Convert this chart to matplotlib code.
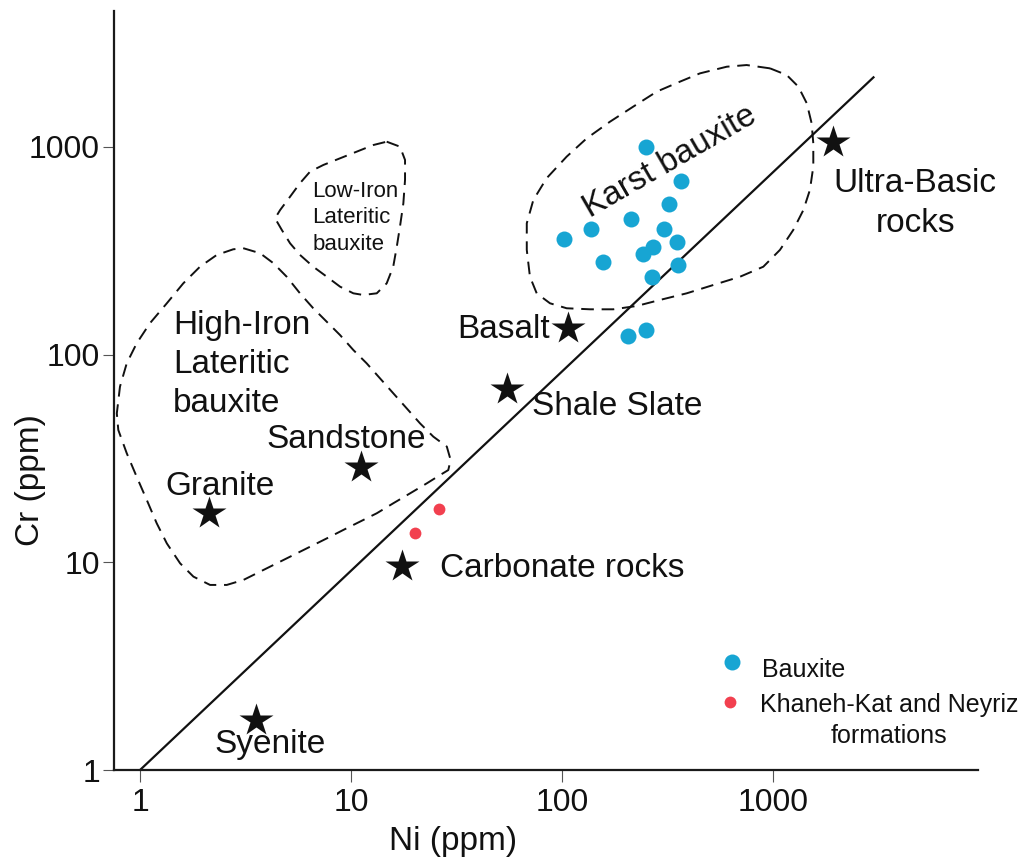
import numpy as np
import matplotlib
matplotlib.use('Agg')
import matplotlib.pyplot as plt

plt.rcParams['font.family'] = ['Liberation Sans', 'DejaVu Sans']

# ---------------- data ----------------
bauxite_ni = [249, 365, 321, 212, 137, 102, 303, 350, 271, 243, 157, 356, 267, 249, 206]
bauxite_cr = [995, 685, 531, 450, 403, 359, 403, 350, 331, 305, 280, 270, 237, 131, 123]

khaneh_ni = [26.1, 20.1]
khaneh_cr = [18.0, 13.8]

rock_names = ['Ultra-Basic\nrocks', 'Basalt', 'Shale Slate', 'Sandstone',
              'Granite', 'Carbonate rocks', 'Syenite']
rock_ni = [1931, 107, 54.7, 11.2, 2.13, 17.4, 3.55]
rock_cr = [1060, 134, 68.1, 28.7, 17.2, 9.63, 1.74]

ref_line_ni = [1, 3020]
ref_line_cr = [1, 2180]

axis_ticks = [1, 10, 100, 1000]
tick_labels = ['1', '10', '100', '1000']

# field boundaries (log10 Ni, log10 Cr)
karst_log_ni = [2.986, 2.875, 2.781, 2.654, 2.559, 2.449, 2.338, 2.227, 2.117, 2.022,
                1.927, 1.864, 1.833, 1.833, 1.848, 1.880, 1.943, 2.022, 2.133, 2.243,
                2.354, 2.464, 2.591, 2.717, 2.844, 2.954, 3.033, 3.096, 3.144, 3.175,
                3.191, 3.191, 3.183, 3.160, 3.120, 3.065]
karst_log_cr = [3.378, 3.394, 3.386, 3.354, 3.314, 3.266, 3.194, 3.121, 3.041, 2.953,
                2.849, 2.744, 2.632, 2.504, 2.375, 2.295, 2.247, 2.223, 2.218, 2.218,
                2.234, 2.263, 2.295, 2.335, 2.375, 2.423, 2.504, 2.600, 2.696, 2.793,
                2.905, 3.017, 3.114, 3.210, 3.290, 3.346]

high_log_ni = [0.490, 0.569, 0.632, 0.695, 0.758, 0.821, 0.885, 0.948, 1.011, 1.074,
               1.137, 1.200, 1.264, 1.327, 1.390, 1.454, 1.472, 1.461, 1.422, 1.359,
               1.280, 1.200, 1.122, 1.043, 0.964, 0.885, 0.806, 0.727, 0.648, 0.569,
               0.490, 0.411, 0.332, 0.253, 0.190, 0.127, 0.079, 0.032, -0.016, -0.063,
               -0.103, -0.110, -0.095, -0.063, -0.016, 0.047, 0.127, 0.205, 0.284, 0.364,
               0.442]
high_log_cr = [2.512, 2.488, 2.440, 2.375, 2.295, 2.223, 2.158, 2.094, 2.022, 1.958,
               1.886, 1.814, 1.741, 1.669, 1.605, 1.557, 1.493, 1.444, 1.420, 1.380,
               1.332, 1.284, 1.236, 1.196, 1.156, 1.115, 1.075, 1.035, 0.995, 0.955,
               0.915, 0.891, 0.891, 0.931, 0.995, 1.091, 1.188, 1.300, 1.412, 1.525,
               1.637, 1.717, 1.846, 1.958, 2.054, 2.151, 2.247, 2.343, 2.423, 2.480,
               2.507]

low_log_ni = [1.169, 1.232, 1.256, 1.256, 1.248, 1.232, 1.217, 1.200, 1.169, 1.122,
              1.058, 1.011, 0.948, 0.885, 0.821, 0.758, 0.711, 0.672, 0.640, 0.664,
              0.711, 0.758, 0.806, 0.869, 0.948, 1.027, 1.106]
low_log_cr = [3.025, 3.001, 2.937, 2.841, 2.728, 2.616, 2.520, 2.423, 2.343, 2.295,
              2.287, 2.295, 2.327, 2.375, 2.423, 2.480, 2.536, 2.600, 2.656, 2.696,
              2.760, 2.825, 2.881, 2.913, 2.945, 2.977, 3.009]

# ---------------- style ----------------
BLUE = '#17A5D3'
RED = '#F2404F'
INK = '#111111'

fig = plt.figure(figsize=(10.24, 8.66), dpi=100)
ax = fig.add_axes([114 / 1024, 1 - 770 / 866, 864 / 1024, 759 / 866])
ax.set_xscale('log')
ax.set_yscale('log')
ax.set_xlim(0.7527, 9367)
ax.set_ylim(1.0, 4510)

for s in ['top', 'right']:
    ax.spines[s].set_visible(False)
for s in ['left', 'bottom']:
    ax.spines[s].set_linewidth(1.6)
    ax.spines[s].set_color('#1a1a1a')

ax.set_xticks(axis_ticks, tick_labels)
ax.set_yticks(axis_ticks, tick_labels)
ax.minorticks_off()
ax.tick_params(axis='x', length=8.5, width=0.8, color='#555555', pad=4.5,
               labelsize=23, labelcolor=INK)
ax.tick_params(axis='y', length=8, width=0.8, color='#555555', pad=2,
               labelsize=23, labelcolor=INK)

ax.set_xlabel('Ni (ppm)', fontsize=24, color=INK)
ax.xaxis.set_label_coords((453 - 114) / 864, (770 - 850) / 759)
ax.xaxis.label.set_va('baseline')
ax.set_ylabel('Cr (ppm)', fontsize=24, color=INK)
ax.yaxis.set_label_coords((39 - 114) / 864, (770 - 480) / 759)
ax.yaxis.label.set_va('baseline')

# reference line
ax.plot(ref_line_ni, ref_line_cr, color=INK, lw=1.6, solid_capstyle='butt', zorder=2)

# field boundaries
dash = (0, (6.5, 4))
for lx, ly in [(karst_log_ni, karst_log_cr), (high_log_ni, high_log_cr),
               (low_log_ni, low_log_cr)]:
    xs = 10 ** np.array(lx + lx[:1])
    ys = 10 ** np.array(ly + ly[:1])
    ax.plot(xs, ys, color=INK, lw=1.4, linestyle=dash, clip_on=False, zorder=2)

# points
ax.plot(bauxite_ni, bauxite_cr, 'o', color=BLUE, ms=11.5, mec='none', zorder=3)
ax.plot(khaneh_ni, khaneh_cr, 'o', color=RED, ms=8.5, mec='none', zorder=3)
ax.plot(rock_ni, rock_cr, '*', color=INK, ms=25, mec='none', zorder=4, clip_on=False)

# rock labels (offset in pixels from star to last-line baseline, alignment)
label_offsets = [(82, -90, 'center'), (-18, -10, 'right'), (25, -26, 'left'),
                 (-15, 19, 'center'), (11, 18, 'center'), (38, -11, 'left'),
                 (14, -33, 'center')]
for name, x, y, (dx, dy, ha) in zip(rock_names, rock_ni, rock_cr, label_offsets):
    ax.annotate(name, (x, y), xytext=(dx, dy), textcoords='offset pixels',
                ha=ha, va='baseline', fontsize=24, color=INK,
                multialignment='center', linespacing=1.34)

# field labels (anchored at baseline of last line)
ax.text(1.43, 53.1, 'High-Iron\nLateritic\nbauxite', fontsize=24, color=INK,
        ha='left', va='baseline', linespacing=1.32)
ax.text(6.56, 318.9, 'Low-Iron\nLateritic\nbauxite', fontsize=16, color=INK,
        ha='left', va='baseline', linespacing=1.35)
ax.text(325, 849, 'Karst bauxite', fontsize=24, color=INK, rotation=30,
        rotation_mode='anchor', ha='center', va='center')

# legend (manual)
ax.plot([0.715], [0.1427], 'o', color=BLUE, ms=11.5, mec='none',
        transform=ax.transAxes, clip_on=False)
ax.plot([0.713], [0.090], 'o', color=RED, ms=8.5, mec='none',
        transform=ax.transAxes, clip_on=False)
ax.text(0.7497, 0.1229, 'Bauxite', transform=ax.transAxes, fontsize=18,
        color=INK, ha='left', va='baseline')
ax.text(0.897, 0.0352, 'Khaneh-Kat and Neyriz\nformations', transform=ax.transAxes,
        fontsize=18, color=INK, ha='center', va='baseline',
        multialignment='center', linespacing=1.39)

fig.savefig('out.png', dpi=100)
